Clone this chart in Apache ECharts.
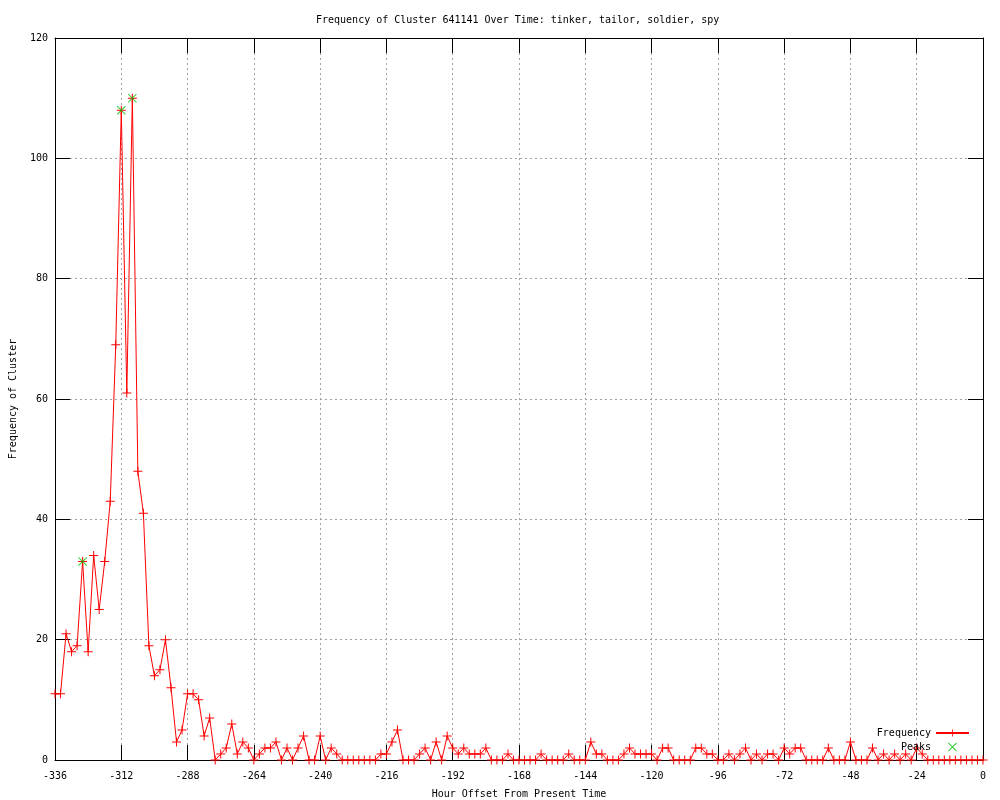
<!DOCTYPE html>
<html>
<head>
<meta charset="utf-8">
<script src="https://cdn.jsdelivr.net/npm/echarts@6/dist/echarts.min.js"></script>
<style>
html,body{margin:0;padding:0;background:#fff;}
#chart{width:1000px;height:800px;}
</style>
</head>
<body>
<div id="chart"></div>
<script>
// Hour offsets (every 2 hours)
const hours = [
-336,-334,-332,-330,-328,-326,-324,-322,-320,-318,-316,-314,-312,-310,-308,-306,-304,-302,-300,-298,
-296,-294,-292,-290,-288,-286,-284,-282,-280,-278,-276,-274,-272,-270,-268,-266,-264,-262,-260,-258,
-256,-254,-252,-250,-248,-246,-244,-242,-240,-238,-236,-234,-232,-230,-228,-226,-224,-222,-220,-218,
-216,-214,-212,-210,-208,-206,-204,-202,-200,-198,-196,-194,-192,-190,-188,-186,-184,-182,-180,-178,
-176,-174,-172,-170,-168,-166,-164,-162,-160,-158,-156,-154,-152,-150,-148,-146,-144,-142,-140,-138,
-136,-134,-132,-130,-128,-126,-124,-122,-120,-118,-116,-114,-112,-110,-108,-106,-104,-102,-100,-98,
-96,-94,-92,-90,-88,-86,-84,-82,-80,-78,-76,-74,-72,-70,-68,-66,-64,-62,-60,-58,
-56,-54,-52,-50,-48,-46,-44,-42,-40,-38,-36,-34,-32,-30,-28,-26,-24,-22,-20,-18,
-16,-14,-12,-10,-8,-6,-4,-2,0
];
// Frequency values
const frequency = [
11,11,21,18,19,33,18,34,25,33,43,69,108,61,110,48,41,19,14,15,
20,12,3,5,11,11,10,4,7,0,1,2,6,1,3,2,0,1,2,2,
3,0,2,0,2,4,0,0,4,0,2,1,0,0,0,0,0,0,0,1,
1,3,5,0,0,0,1,2,0,3,0,4,2,1,2,1,1,1,2,0,
0,0,1,0,0,0,0,0,1,0,0,0,0,1,0,0,0,3,1,1,
0,0,0,1,2,1,1,1,1,0,2,2,0,0,0,0,2,2,1,1,
0,0,1,0,1,2,0,1,0,1,1,0,2,1,2,2,0,0,0,0,
2,0,0,0,3,0,0,0,2,0,1,0,1,0,1,0,2,1,0,0,
0,0,0,0,0,0,0,0,0
];
// Peaks
const peakHours = [-326, -312, -308];
const peakValues = [33, 108, 110];

const xTicks = { min: -336, max: 0, interval: 24 };
const yTicks = { min: 0, max: 120, interval: 20 };

const freqData = hours.map((h, i) => [h, frequency[i]]);
const peakData = peakHours.map((h, i) => [h, peakValues[i]]);

const FONT = 'DejaVu Sans Mono';
const plusPath = 'path://M4,0 H5 V4 H9 V5 H5 V9 H4 V5 H0 V4 H4 Z';
const xPath = 'path://M0,0.7 L0.7,0 L4.5,3.8 L8.3,0 L9,0.7 L5.2,4.5 L9,8.3 L8.3,9 L4.5,5.2 L0.7,9 L0,8.3 L3.8,4.5 Z';

const axisLine = { show: true, onZero: false, lineStyle: { color: '#000', width: 1 } };
const tick = { show: true, inside: true, length: 15, lineStyle: { color: '#000', width: 1 } };
const grid = { show: true, lineStyle: { color: '#a0a0a0', width: 1, type: [2, 3] } };

const chart = echarts.init(document.getElementById('chart'), null, { renderer: 'canvas' });
chart.setOption({
  animation: false,
  backgroundColor: '#fff',
  title: {
    text: 'Frequency of Cluster 641141 Over Time: tinker, tailor, soldier, spy',
    left: 311, top: 10,
    textStyle: { fontFamily: FONT, fontSize: 10, fontWeight: 'normal', color: '#000' }
  },
  grid: { left: 55, width: 928, top: 38, height: 722, containLabel: false, outerBoundsMode: 'none' },
  xAxis: [
    {
      type: 'value', position: 'bottom', min: xTicks.min, max: xTicks.max, interval: xTicks.interval,
      name: 'Hour Offset From Present Time', nameLocation: 'middle', nameGap: 29,
      nameTextStyle: { fontFamily: FONT, fontSize: 10, color: '#000' },
      axisLine: axisLine, axisTick: tick, splitLine: grid,
      axisLabel: { fontFamily: FONT, fontSize: 10, color: '#000', margin: 11 }
    },
    {
      type: 'value', position: 'top', min: xTicks.min, max: xTicks.max, interval: xTicks.interval,
      axisLine: axisLine, axisTick: tick, splitLine: { show: false }, axisLabel: { show: false }
    }
  ],
  yAxis: [
    {
      type: 'value', position: 'left', min: yTicks.min, max: yTicks.max, interval: yTicks.interval,
      name: 'Frequency of Cluster', nameLocation: 'middle', nameGap: 37,
      nameTextStyle: { fontFamily: FONT, fontSize: 10, color: '#000' },
      axisLine: axisLine, axisTick: tick, splitLine: grid,
      axisLabel: { fontFamily: FONT, fontSize: 10, color: '#000', margin: 7 }
    },
    {
      type: 'value', position: 'right', min: yTicks.min, max: yTicks.max, interval: yTicks.interval,
      axisLine: axisLine, axisTick: tick, splitLine: { show: false }, axisLabel: { show: false }
    }
  ],
  legend: {
    orient: 'vertical', right: 30, top: 728, align: 'right',
    itemWidth: 33, itemHeight: 9, itemGap: 4, padding: 0,
    textStyle: { fontFamily: FONT, fontSize: 10, color: '#000', width: 56, align: 'right' },
    data: ['Frequency', 'Peaks']
  },
  series: [
    {
      name: 'Frequency', type: 'line', data: freqData,
      symbol: plusPath, symbolSize: 9, showAllSymbol: true,
      lineStyle: { color: '#ff0000', width: 1 },
      itemStyle: { color: '#ff0000' },
      z: 2
    },
    {
      name: 'Peaks', type: 'scatter', data: peakData,
      symbol: xPath, symbolSize: 9, symbolKeepAspect: true,
      itemStyle: { color: '#00c000' },
      z: 3
    }
  ]
});
</script>
</body>
</html>
